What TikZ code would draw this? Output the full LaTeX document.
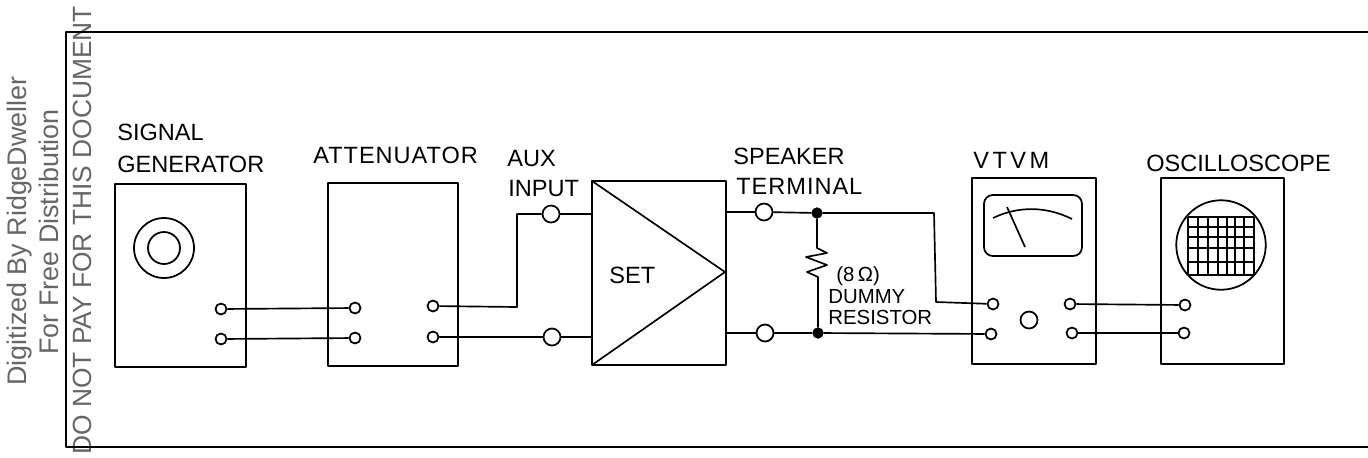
\documentclass[tikz,border=0pt]{standalone}
\usepackage{fontspec}
\setmainfont{Liberation Sans}
\begin{document}
\begin{tikzpicture}[x=0.02cm, y=-0.02cm, line join=round,
  box/.style={rectangle, draw=black, line width=1pt, inner sep=0pt, outer sep=0pt},
  term/.style={circle, draw=black, fill=white, line width=1pt, inner sep=0pt, minimum size=0.22cm},
  bigterm/.style={term, minimum size=0.34cm},
  joint/.style={circle, draw=black, fill=black, inner sep=0pt, minimum size=0.21cm},
  wire/.style={line width=0.95pt},
  lab/.style={anchor=base west, inner sep=0pt, font=\fontsize{13.4}{16}\selectfont},
  spaced/.style={font=\fontsize{13.4}{16}\selectfont\addfontfeature{LetterSpace=4.2}},
  small/.style={font=\fontsize{11.6}{14}\selectfont},
  wmark/.style={rotate=90, anchor=base, inner sep=0pt, text=black!60, font=\fontsize{15.3}{18}\selectfont},
]
\useasboundingbox (0,0) rectangle (1368,457);

%% WATERMARK
\node[wmark] (wm1) at (27,231) {Digitized By RidgeDweller};
\node[wmark] (wm2) at (58,232) {For Free Distribution};
\node[wmark, font=\fontsize{15}{18}\selectfont] (wm3) at (91,230.5) {DO NOT PAY FOR THIS DOCUMENT};

%% FRAME
\draw[line width=1pt] (1368,32) -- (66,32) -- (66,447) -- (1368,447);

%% INSTRUMENTS
\node[box, minimum width=2.62cm, minimum height=3.66cm] (gen)   at (180.5,275.5) {};
\node[box, minimum width=2.60cm, minimum height=3.66cm] (atten) at (393,274.5) {};
\node[box, minimum width=2.68cm, minimum height=3.68cm] (set)   at (659,273) {};
\node[box, minimum width=2.48cm, minimum height=3.72cm] (vtvm)  at (1034,271) {};
\node[box, minimum width=2.46cm, minimum height=3.72cm] (scope) at (1222.5,271) {};

%% KNOB
\node[circle, draw, line width=1pt, inner sep=0pt, minimum size=1.2cm] (dial) at (164,248) {};
\node[circle, draw, line width=1pt, inner sep=0pt, minimum size=0.64cm] (dialin) at (164,248) {};

%% SET TRIANGLE
\coordinate (tip) at (725,272);
\draw[wire] (set.north west) -- (tip) -- (set.south west);

%% METER
\node[box, rounded corners=5pt, minimum width=1.96cm, minimum height=1.22cm] (meter) at (1033,225.5) {};
\draw[wire] (993,218) .. controls (1018,206) and (1046,206) .. (1072,219);
\draw[wire] (1007,207) -- (1025,247);

%% SCREEN
\node[circle, draw, line width=1pt, inner sep=0pt, minimum size=1.79cm] (screen) at (1221,245) {};
\foreach \gx in {1188,1198,1208,1218,1227,1235,1244,1254}
  \draw[wire] (\gx,217) -- (\gx,275);
\foreach \gy in {217,227,237,248,262,275}
  \draw[wire] (1188,\gy) -- (1254,\gy);

%% TERMINALS
\node[term] (genA)   at (221,309) {};
\node[term] (genB)   at (221,339) {};
\node[term] (attA)   at (355,308) {};
\node[term] (attB)   at (355,338) {};
\node[term] (attC)   at (433,306) {};
\node[term] (attD)   at (433,337) {};
\node[bigterm] (auxA) at (551,214) {};
\node[bigterm] (auxB) at (552,337) {};
\node[bigterm] (spkA) at (764,212) {};
\node[bigterm] (spkB) at (765,333) {};
\node[joint] (dotA)  at (817,213) {};
\node[joint] (dotB)  at (818,333) {};
\node[term] (vtvmA)  at (993,304) {};
\node[term] (vtvmB)  at (991,334) {};
\node[term] (vtvmC)  at (1070,304) {};
\node[term] (vtvmD)  at (1072,333) {};
\node[bigterm] (vtvmK) at (1029,320) {};
\node[term] (scopeA) at (1185,305) {};
\node[term] (scopeB) at (1184,333) {};

%% WIRES
\draw[wire] (genA) -- (attA);
\draw[wire] (genB) -- (attB);
\coordinate (bendA) at (517,307);
\coordinate (bendB) at (517,214);
\draw[wire] (attC) -- (bendA) -- (bendB) -- (auxA);
\draw[wire] (attD) -- (auxB);
\draw[wire] (auxA) -- (set.west |- auxA);
\draw[wire] (auxB) -- (set.west |- auxB);
\draw[wire] (set.east |- spkA) -- (spkA);
\draw[wire] (set.east |- spkB) -- (spkB);
\draw[wire] (spkA) -- (dotA);
\draw[wire] (spkB) -- (dotB);
\coordinate (bendC) at (934,213);
\coordinate (bendD) at (936,302);
\draw[wire] (dotA) -- (bendC) -- (bendD) -- (vtvmA);
\draw[wire] (dotB) -- (vtvmB);
\draw[wire] (vtvmC) -- (scopeA);
\draw[wire] (vtvmD) -- (scopeB);

%% RESISTOR
\draw[wire] (dotA) -- (817,248) -- (827,253) -- (806,257) -- (827,265) -- (807,272) -- (818,277) -- (dotB);

%% LABELS
\node[lab] (sig)   at (117,140) {SIGNAL};
\node[lab] (gena)  at (117,172) {GENERATOR};
\node[lab, spaced] (attn)  at (313,163) {ATTENUATOR};
\node[lab] (aux)   at (507,166) {AUX};
\node[lab] (inp)   at (508,196) {INPUT};
\node[lab] (spk)   at (733,164) {SPEAKER};
\node[lab, spaced] (trm)   at (736,194) {TERMINAL};
\node[lab] (setl)  at (609,283) {SET};
\node[lab, small] (ohm) at (836,281) {(8\,Ω)};
\node[lab, small] (dum) at (828,303) {DUMMY};
\node[lab, small] (res) at (828,324) {RESISTOR};
\node[lab] (vt)    at (973,168) {V\hspace{2pt}T\hspace{2pt}V\hspace{2pt}M};
\node[lab] (osc)   at (1146,171) {OSCILLOSCOPE};
\end{tikzpicture}
\end{document}
